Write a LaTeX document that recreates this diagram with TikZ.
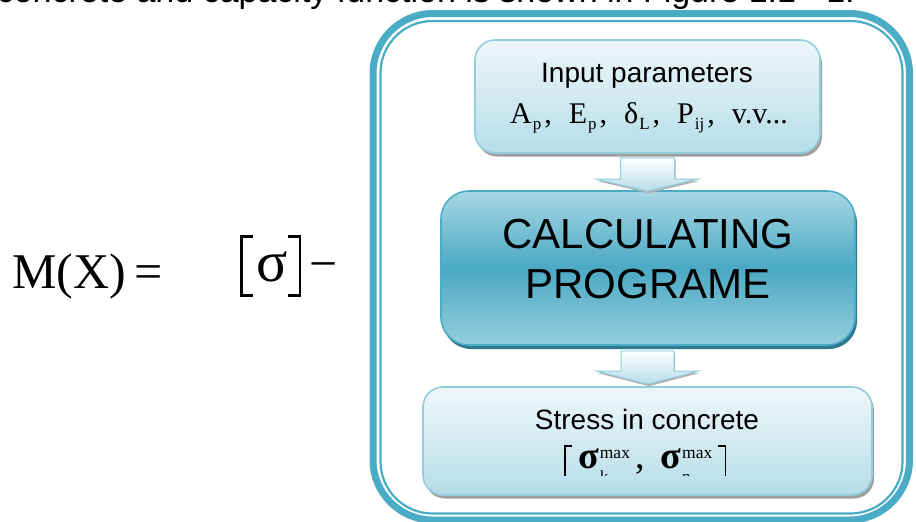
\documentclass[tikz,border=0pt]{standalone}
\usepackage{fontspec}
\setmainfont{Liberation Serif}
\setsansfont{Liberation Sans}
\usetikzlibrary{calc,shadows}
\definecolor{aqua}{HTML}{4BACC6}
\definecolor{lightaqua}{HTML}{92CDDC}
\definecolor{boxtop}{HTML}{EEF7FA}
\definecolor{boxbot}{HTML}{B6DDE8}
\definecolor{calctop}{HTML}{A7D7E3}
\definecolor{calcmid}{HTML}{4BA9C4}
\definecolor{calcbot}{HTML}{95CEDC}
\definecolor{calcshadow}{HTML}{2E7A8E}
\newcommand\sbs[1]{\raisebox{-6pt}{\fontsize{17}{17}\selectfont #1}}
\newcommand\supsb[2]{\rlap{\raisebox{-14pt}{\fontsize{17}{17}\selectfont #2}}\raisebox{10pt}{\fontsize{17.5}{17.5}\selectfont #1}}
\newcommand\brL[3]{\rule[#1]{#3}{#2}\kern-#3\rlap{\rule[#1]{13pt}{#3}}\rule[\dimexpr#1+#2-#3\relax]{13pt}{#3}}
\newcommand\brR[3]{\rule[\dimexpr#1+#2-#3\relax]{13pt}{#3}\kern-13pt\rule[#1]{13pt}{#3}\kern-#3\rule[#1]{#3}{#2}}
\newcommand\ceilL{\rule[-12pt]{1.8pt}{35pt}\kern-1.8pt\rule[21.2pt]{8pt}{1.8pt}}
\newcommand\ceilR{\rule[21.2pt]{8pt}{1.8pt}\kern-1.8pt\rule[-12pt]{1.8pt}{35pt}}
\tikzset{
  frameout/.style={draw=aqua, line width=7pt, rounded corners=60pt, inner sep=0pt, fill=none},
  framein/.style={draw=aqua, line width=2.2pt, rounded corners=52pt, inner sep=0pt, fill=none},
  lightbox/.style={draw=lightaqua, line width=1.6pt, rounded corners=20pt, inner sep=0pt,
    top color=boxtop, bottom color=boxbot,
    drop shadow={shadow xshift=2pt, shadow yshift=-3.5pt, fill=gray!75, opacity=1}},
  calcbox/.style={draw=aqua, line width=1.6pt, rounded corners=28pt, inner sep=0pt,
    top color=calctop, bottom color=calcbot, middle color=calcmid,
    drop shadow={shadow xshift=2pt, shadow yshift=-4pt, fill=calcshadow, opacity=1}},
  blockarr/.style={draw=lightaqua, line width=1pt, top color=white, bottom color=boxbot,
    preaction={fill=gray!60, transform canvas={xshift=1pt, yshift=-2pt}}},
  sanstext/.style={font=\sffamily\fontsize{28}{28}\selectfont, inner sep=0pt},
}
\begin{document}
\begin{tikzpicture}[x=1pt, y=-1pt]
\useasboundingbox (0,0) rectangle (916,522);
\clip (0,0) rectangle (916,522);
\fill[white] (0,0) rectangle (916,522);

% clipped line of text at the top
\node[anchor=base east, font=\sffamily\fontsize{34}{34}\selectfont, inner sep=0pt] (caption) at (855,2)
  {concrete and capacity function is shown in Figure 1.1 - 1.};

% left formula
\node[anchor=base west, font=\fontsize{50}{50}\selectfont, inner sep=0pt] (mx) at (12,288) {M(X)\kern8pt=};
\node[anchor=base west, inner sep=0pt] (sig) at (240,288)
  {\brL{-9pt}{62pt}{2.6pt}\kern3pt{\fontsize{58}{58}\selectfont\raisebox{7pt}{σ}}\kern1pt\brR{-9pt}{62pt}{2.6pt}\kern8pt{\fontsize{50}{50}\selectfont\raisebox{8pt}{−}}};

% frame
\node[frameout, minimum width=536.5pt, minimum height=506.5pt] (frame) at (641.25,266.75) {};
\node[framein, minimum width=522pt, minimum height=492.5pt] (frameinner) at (641.5,267.25) {};

% boxes
\node[lightbox, minimum width=345pt, minimum height=113pt] (in) at (647.5,96.5) {};
\node[calcbox, minimum width=414pt, minimum height=154pt] (calc) at (648,268) {};
\node[lightbox, minimum width=449pt, minimum height=108pt] (out) at (647.5,441) {};

% block arrows
\path[blockarr] let \p1=(in.south), \p2=(calc.north) in
  (\x1-27pt,\y1-4pt) -- (\x1+27pt,\y1-4pt) -- (\x1+27pt,\y2+11pt) -- (\x1+50pt,\y2+11pt)
  -- (\x1,\y2-1pt) -- (\x1-51pt,\y2+11pt) -- (\x1-27pt,\y2+11pt) -- cycle;
\path[blockarr] let \p1=(calc.south), \p2=(out.north) in
  (\x1-27pt,\y1-5pt) -- (\x1+26pt,\y1-5pt) -- (\x1+26pt,\y2+15pt) -- (\x1+50pt,\y2+15pt)
  -- (\x1,\y2+2pt) -- (\x1-51pt,\y2+15pt) -- (\x1-27pt,\y2+15pt) -- cycle;

% texts
\node[sanstext, anchor=base] (inlabel) at (647,82) {Input parameters};
\node[anchor=base, font=\fontsize{30}{30}\selectfont, inner sep=0pt] (inmath) at (649,123)
  {A\kern1pt\sbs{p}\kern3pt,\hspace{17pt}E\kern1pt\sbs{p}\kern3pt,\hspace{17pt}δ\kern1pt\sbs{L}\kern3pt,\hspace{17pt}P\kern1pt\sbs{ij}\kern3pt,\hspace{17pt}v.v...};

\node[anchor=base, font=\sffamily\fontsize{42}{42}\selectfont, inner sep=0pt] (calc1) at (648,248) {CALCULATING};
\node[anchor=base, font=\sffamily\fontsize{42}{42}\selectfont, inner sep=0pt] (calc2) at (648,298) {PROGRAME};

\node[sanstext, anchor=base] (outlabel) at (647,429) {Stress in concrete};
\begin{scope}
  \clip (423,387) rectangle (872,475.5);
  \node[anchor=base west, font=\fontsize{38}{38}\selectfont, inner sep=0pt] (outmath) at (564,468)
    {\ceilL\kern6pt\textbf{σ}\kern1pt\supsb{max}{k}\kern5pt,\hspace{16pt}\textbf{σ}\kern1pt\supsb{max}{n}\kern6pt\ceilR};
\end{scope}
\end{tikzpicture}
\end{document}
